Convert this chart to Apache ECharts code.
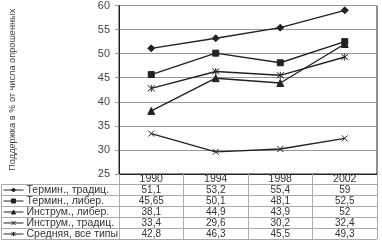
<!DOCTYPE html>
<html><head><meta charset="utf-8">
<script src="https://cdn.jsdelivr.net/npm/echarts@6/dist/echarts.min.js"></script>
<style>html,body{margin:0;padding:0;background:#fff}#c{width:382px;height:245px}</style>
</head><body><div id="c"></div>
<script>
var years = ['1990', '1994', '1998', '2002'];
var seriesNames = ['Термин., традиц.', 'Термин., либер.', 'Инструм., либер.', 'Инструм., традиц.', 'Средняя, все типы'];
var termTrad = [51.1, 53.2, 55.4, 59];
var termLiber = [45.65, 50.1, 48.1, 52.5];
var instrLiber = [38.1, 44.9, 43.9, 52];
var instrTrad = [33.4, 29.6, 30.2, 32.4];
var average = [42.8, 46.3, 45.5, 49.3];
var yTicks = [25, 30, 35, 40, 45, 50, 55, 60];
var yTitle = 'Поддержка в % от числа опрошенных';

var rows = [termTrad, termLiber, instrLiber, instrTrad, average];
var symbols = ['diamond', 'rect', 'triangle',
  'path://M0,0L10,10M10,0L0,10',
  'path://M0,0L10,10M10,0L0,10M5,-1L5,11'];
var symSizes = [7, 6, 7, 6, 7];
var ink = '#222';
var font = '"Liberation Sans", Arial, sans-serif';

var G = {left: 112, right: 5, top: 5, bottom: 71};
var rowH = 11;
var fmt = function (v) { return String(v).replace('.', ','); };

var xAxes = [{
  type: 'category', data: years, gridIndex: 0, position: 'bottom',
  axisLine: {show: true, lineStyle: {color: ink, width: 1}},
  axisTick: {show: true, length: 65, lineStyle: {color: '#aaa', width: 1}},
  axisLabel: {color: '#333', fontSize: 10.5, fontFamily: font, margin: 5, verticalAlign: 'middle', lineHeight: 11},
  splitLine: {show: false}
}];
rows.forEach(function (r, i) {
  xAxes.push({
    type: 'category', data: r.map(fmt), gridIndex: 0, position: 'bottom', offset: rowH * (i + 1),
    axisLine: {show: false}, axisTick: {show: false}, splitLine: {show: false},
    axisLabel: {color: '#333', fontSize: 10, fontFamily: font, margin: 5, verticalAlign: 'middle', lineHeight: 11}
  });
});

var series = rows.map(function (r, i) {
  return {
    name: seriesNames[i], type: 'line', data: r, xAxisIndex: 0,
    symbol: symbols[i], symbolSize: symSizes[i], showSymbol: true,
    lineStyle: {color: ink, width: 1.4},
    itemStyle: {color: ink, borderColor: ink, borderWidth: 1},
    emphasis: {disabled: true}, animation: false
  };
});

var tableTop = 245 - G.bottom + rowH - 1;
var graphics = [];
for (var k = 0; k <= rows.length; k++) {
  var y = tableTop + k * rowH + 0.5;
  graphics.push({type: 'line', shape: {x1: 1, y1: y, x2: 382 - G.right, y2: y}, style: {stroke: '#aaa', lineWidth: 1}, silent: true});
}
graphics.push({type: 'line', shape: {x1: 1.5, y1: tableTop + 0.5, x2: 1.5, y2: tableTop + rows.length * rowH + 0.5}, style: {stroke: '#aaa', lineWidth: 1}, silent: true});

var chart = echarts.init(document.getElementById('c'), null, {renderer: 'canvas'});
chart.setOption({
  animation: false,
  backgroundColor: '#fff',
  grid: {left: G.left, right: G.right, top: G.top, bottom: G.bottom, show: true, borderColor: ink, borderWidth: 1, containLabel: false},
  xAxis: xAxes,
  yAxis: {
    type: 'value', min: yTicks[0], max: yTicks[yTicks.length - 1], interval: 5,
    name: yTitle, nameLocation: 'middle', nameGap: 102, nameRotate: 90,
    nameTextStyle: {color: '#444', fontSize: 9.2, fontFamily: font},
    axisLine: {show: true, lineStyle: {color: ink}},
    axisTick: {show: true, length: 4, lineStyle: {color: '#999'}},
    axisLabel: {color: '#444', fontSize: 11, fontFamily: font, margin: 9},
    splitLine: {show: true, lineStyle: {color: '#999', width: 1}}
  },
  legend: {
    orient: 'vertical', left: 3, top: tableTop + 0.5, padding: 0, height: 60,
    itemWidth: 20, itemHeight: 5, itemGap: 0,
    itemStyle: {borderWidth: 1, borderColor: ink},
    lineStyle: {width: 1},
    textStyle: {color: '#333', fontSize: 10.5, fontFamily: font, lineHeight: 11, padding: [0, 0, 0, -2]},
    data: seriesNames, selectedMode: false
  },
  graphic: graphics,
  series: series
});
</script></body></html>
